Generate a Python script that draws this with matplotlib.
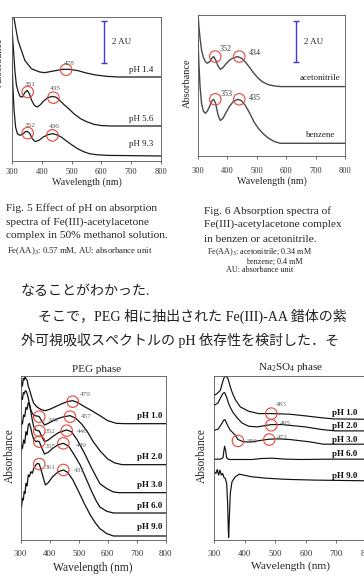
import matplotlib
matplotlib.use('Agg')
import matplotlib.pyplot as plt

plt.rcParams['font.family'] = ['Liberation Serif', 'Noto Sans CJK JP']
plt.rcParams['mathtext.fontset'] = 'custom'
plt.rcParams['mathtext.rm'] = 'Liberation Serif'
plt.rcParams['mathtext.it'] = 'Liberation Serif:italic'

# ---------------- Fig. 5 data (50% methanol) ----------------
f5_ph14_wl = [303, 307, 320, 343, 365, 393, 410, 440, 470, 490, 520, 550, 580, 620, 660, 800]
f5_ph14_ab = [7.10, 6.83, 5.79, 4.83, 4.43, 4.27, 4.24, 4.32, 4.40, 4.40, 4.34, 4.22, 4.13, 4.06, 4.03, 4.03]
f5_ph56_wl = [300, 305, 310, 315, 320, 327, 335, 343, 351, 358, 366, 375, 385, 395, 405, 420, 435, 448,
              460, 475, 490, 510, 530, 550, 575, 600, 630, 800]
f5_ph56_ab = [6.35, 5.31, 4.27, 3.63, 3.36, 3.10, 3.07, 3.28, 3.39, 3.23, 2.91, 2.67, 2.59, 2.70, 2.86, 3.04,
              3.10, 3.06, 2.91, 2.70, 2.51, 2.24, 2.03, 1.89, 1.76, 1.70, 1.68, 1.68]
f5_ph93_wl = [300, 303, 307, 312, 318, 327, 338, 345, 352, 360, 368, 378, 390, 405, 420, 436, 450, 465,
              480, 500, 520, 540, 560, 585, 620, 800]
f5_ph93_ab = [4.83, 3.55, 2.43, 1.63, 1.31, 1.23, 1.31, 1.41, 1.42, 1.31, 1.07, 0.93, 0.99, 1.15, 1.26, 1.31,
              1.26, 1.15, 0.99, 0.78, 0.59, 0.45, 0.35, 0.30, 0.27, 0.24]
f5_labels = ['pH 1.4', 'pH 5.6', 'pH 9.3']
f5_label_ab = [4.35, 2.03, 0.80]
f5_peak_names = ['478', '351', '435', '352', '436']
f5_peak_wl = [481.6, 352.7, 439.0, 352.7, 435.6]
f5_peak_ab = [4.38, 3.31, 3.04, 1.34, 1.23]
f5_peak_txt_wl = [493, 360, 444, 362, 443]
f5_peak_txt_ab = [4.70, 3.68, 3.49, 1.70, 1.66]

# ---------------- Fig. 6 data (benzene / acetonitrile) ----------------
f6_acn_wl = [300, 303, 307, 312, 318, 325, 332, 340, 347, 353, 360, 368, 376, 385, 395, 408, 420, 434,
             447, 460, 475, 490, 505, 520, 540, 560, 580, 800]
f6_acn_ab = [6.85, 6.21, 5.65, 5.09, 4.74, 4.53, 4.45, 4.53, 4.69, 4.77, 4.61, 4.32, 4.16, 4.24, 4.42, 4.61,
             4.70, 4.77, 4.70, 4.53, 4.26, 3.97, 3.73, 3.55, 3.42, 3.36, 3.33, 3.33]
f6_bz_wl = [300, 303, 307, 312, 318, 325, 332, 340, 347, 353, 360, 368, 376, 385, 395, 408, 420, 435,
            447, 460, 475, 490, 505, 520, 540, 560, 580, 800]
f6_bz_ab = [5.57, 4.45, 3.33, 2.53, 2.16, 2.05, 2.16, 2.40, 2.64, 2.72, 2.53, 1.97, 1.70, 1.81, 2.08, 2.40,
            2.61, 2.72, 2.66, 2.45, 2.08, 1.65, 1.33, 1.09, 0.85, 0.69, 0.61, 0.61]
f6_labels = ['acetonitrile', 'benzene']
f6_label_ab = [3.73, 1.01]
f6_peak_names = ['352', '434', '353', '435']
f6_peak_wl = [358.8, 440.3, 358.8, 440.3]
f6_peak_ab = [4.77, 4.77, 2.72, 2.72]
f6_peak_txt_wl = [393, 492, 396, 492]
f6_peak_txt_ab = [5.12, 4.96, 2.96, 2.80]

# ---------------- PEG phase data ----------------
peg_ph10_wl = [300, 303, 306, 309, 312, 315, 318, 322, 326, 330, 334, 340, 345, 355, 365, 375, 385, 400,
               420, 440, 460, 479, 495, 520, 545, 575, 600, 630, 660, 800]
peg_ph10_ab = [4.55, 4.75, 4.62, 4.85, 4.80, 4.90, 4.84, 4.80, 4.62, 4.52, 4.40, 4.22, 4.10, 4.00, 3.94,
               3.90, 3.88, 3.92, 4.00, 4.08, 4.15, 4.18, 4.13, 4.00, 3.88, 3.72, 3.58, 3.50, 3.49, 3.49]
peg_ph20_wl = [300, 303, 306, 309, 312, 316, 320, 325, 330, 335, 340, 345, 352, 358, 364, 372, 382, 395,
               410, 430, 450, 470, 490, 510, 530, 550, 575, 600, 625, 650, 800]
peg_ph20_ab = [4.15, 4.30, 4.22, 4.42, 4.38, 4.48, 4.45, 4.30, 4.10, 3.90, 3.80, 3.75, 3.72, 3.72, 3.70,
               3.58, 3.45, 3.50, 3.57, 3.65, 3.70, 3.73, 3.65, 3.48, 3.25, 2.95, 2.66, 2.43, 2.31, 2.26, 2.26]
peg_ph30_wl = [300, 303, 306, 310, 314, 318, 322, 326, 330, 335, 340, 345, 352, 358, 364, 372, 382, 395,
               410, 430, 450, 459, 475, 495, 520, 545, 573, 597, 620, 640, 800]
peg_ph30_ab = [3.40, 3.55, 3.48, 3.75, 3.70, 3.98, 3.92, 4.12, 4.05, 3.85, 3.60, 3.40, 3.30, 3.28, 3.27,
               3.12, 2.95, 3.00, 3.10, 3.22, 3.28, 3.30, 3.25, 3.00, 2.60, 2.15, 1.69, 1.54, 1.44, 1.42, 1.42]
peg_ph60_wl = [300, 303, 306, 310, 314, 318, 322, 326, 330, 335, 340, 345, 352, 358, 364, 372, 382, 395,
               410, 430, 447, 465, 485, 505, 525, 545, 560, 573, 597, 620, 800]
peg_ph60_ab = [2.60, 2.85, 2.75, 3.00, 2.90, 3.25, 3.15, 3.45, 3.50, 3.35, 3.15, 3.02, 2.95, 2.97, 2.95,
               2.78, 2.58, 2.63, 2.75, 2.86, 2.90, 2.82, 2.55, 2.25, 1.85, 1.45, 1.18, 0.99, 0.86, 0.81, 0.81]
peg_ph90_wl = [300, 303, 306, 309, 312, 315, 318, 322, 326, 330, 335, 340, 345, 352, 358, 364, 372, 385,
               395, 410, 430, 447, 462, 480, 500, 520, 540, 557, 573, 597, 620, 800]
peg_ph90_ab = [1.05, 1.00, 1.25, 1.20, 1.45, 1.40, 1.70, 1.62, 1.95, 1.90, 2.05, 2.00, 2.15, 2.25, 2.30,
               2.28, 2.05, 1.65, 1.72, 1.90, 2.05, 2.10, 2.03, 1.80, 1.45, 1.08, 0.75, 0.52, 0.34, 0.19, 0.12, 0.12]
peg_labels = ['pH 1.0', 'pH 2.0', 'pH 3.0', 'pH 6.0', 'pH 9.0']
peg_label_ab = [3.72, 2.49, 1.64, 1.01, 0.38]
peg_peak_names = ['479', '457', '446', '449', '437', '349', '352', '355', '361']
peg_peak_wl = [479.3, 470, 458.6, 447, 447, 364, 364, 364, 364]
peg_peak_ab = [4.15, 3.70, 3.28, 2.90, 2.10, 3.70, 3.27, 2.95, 2.28]
peg_peak_txt_wl = [522, 525, 514, 510, 502, 413, 401, 401, 401]
peg_peak_txt_ab = [4.35, 3.70, 3.25, 2.83, 2.10, 3.58, 3.25, 2.82, 2.17]

# ---------------- Na2SO4 phase data ----------------
na_ph10_wl = [300, 308.7, 319.7, 327.3, 332.8, 338.2, 344.8, 352.4, 360, 368.8, 385.2, 412.4, 445.2, 486.7,
              521.6, 548, 600, 646, 690, 800]
na_ph10_ab = [4.35, 4.40, 4.50, 4.75, 4.90, 4.93, 4.85, 4.60, 4.40, 4.22, 4.00, 3.87, 3.80, 3.80, 3.79,
              3.78, 3.73, 3.68, 3.64, 3.63]
na_ph20_wl = [300, 312, 323, 329.5, 334, 340, 349, 360, 374, 390.6, 412, 440, 467, 486.7, 521.6, 554,
              598, 652.6, 696, 800]
na_ph20_ab = [4.05, 4.12, 4.32, 4.42, 4.43, 4.30, 4.05, 3.85, 3.68, 3.52, 3.42, 3.40, 3.44, 3.47, 3.47,
              3.44, 3.40, 3.32, 3.28, 3.28]
na_ph30_wl = [300, 312, 323, 330.6, 335, 341.5, 352.4, 368.8, 377.5, 396, 423, 456, 480, 510.7, 548, 613,
              657, 800]
na_ph30_ab = [3.30, 3.33, 3.48, 3.60, 3.62, 3.48, 3.30, 3.15, 3.02, 2.95, 2.95, 3.00, 3.03, 3.04, 3.02,
              2.95, 2.88, 2.88]
na_ph60_wl = [300, 319.7, 328.4, 331.7, 333.8, 337, 340.4, 347, 379.7, 423.4, 456, 489, 532.5, 587, 674.5, 800]
na_ph60_ab = [2.43, 2.43, 2.47, 2.70, 2.82, 2.70, 2.47, 2.42, 2.42, 2.42, 2.45, 2.46, 2.43, 2.42, 2.43, 2.43]
na_ph90_wl = [300, 305.5, 309.8, 314.2, 318.6, 323, 327.3, 331.7, 336, 340.4, 343.7, 345.9, 347, 349,
              352.4, 357.9, 368.8, 381.9, 396, 423.4, 467, 521.6, 548, 630.8, 800]
na_ph90_ab = [2.05, 2.00, 2.12, 1.95, 2.10, 1.95, 2.00, 1.88, 1.85, 1.70, 1.10, 0.30, 0.08, 0.60,
              1.40, 1.75, 1.90, 1.98, 1.95, 1.90, 1.86, 1.83, 1.82, 1.80, 1.78]
na_labels = ['pH 1.0', 'pH 2.0', 'pH 3.0', 'pH 6.0', 'pH 9.0']
na_label_ab = [3.83, 3.43, 3.02, 2.58, 1.92]
na_peak_names = ['483', '485', '472', '380']
na_peak_wl = [486.7, 486.7, 480, 377.5]
na_peak_ab = [3.80, 3.45, 3.02, 2.98]
na_peak_txt_wl = [519, 532, 522, 423]
na_peak_txt_ab = [4.07, 3.50, 3.08, 2.97]

xticks = [300, 400, 500, 600, 700, 800]

# ---------------- figure ----------------
W, H = 364, 577
fig = plt.figure(figsize=(W / 100, H / 100), dpi=100)
fig.patch.set_facecolor('white')

RED = '#e8453c'
BLUE = '#3b3bd6'
TXT = '#222222'


def add_ax(l, t, r, b):
    return fig.add_axes([l / W, 1 - b / H, (r - l) / W, (b - t) / H])


def ftext(x, y, s, **kw):
    kw.setdefault('color', TXT)
    fig.text(x / W, 1 - y / H, s, **kw)


def style(ax, ymax, tfs, tpad, xfs, xpad):
    ax.set_xlim(300, 800)
    ax.set_ylim(0, ymax)
    ax.set_xticks(xticks)
    ax.set_yticks([])
    for s in ax.spines.values():
        s.set_linewidth(0.6)
        s.set_color('#555555')
    ax.tick_params(axis='x', direction='out', length=2, width=0.6, color='#555555',
                   labelsize=tfs, pad=tpad, labelcolor='#333333')
    ax.set_xlabel('Wavelength (nm)', fontsize=xfs, labelpad=xpad, color=TXT)


def circles(ax, wl, ab, names, twl, tab, fs, col):
    ax.scatter(wl, ab, s=68, facecolors='none', edgecolors=RED, linewidths=0.8, zorder=5, clip_on=False)
    for n, x, y in zip(names, twl, tab):
        ax.text(x, y, n, fontsize=fs, color=col, ha='center', va='center', zorder=6)


# ---- Fig. 5 ----
ax1 = add_ax(12, 17, 161, 161)
style(ax1, 6.91, 6.0, 2.8, 7.2, 1.0)
for wl, ab in [(f5_ph14_wl, f5_ph14_ab), (f5_ph56_wl, f5_ph56_ab), (f5_ph93_wl, f5_ph93_ab)]:
    ax1.plot(wl, ab, color='#1a1a1a', lw=0.9)
for lab, y in zip(f5_labels, f5_label_ab):
    ax1.text(775, y, lab, fontsize=6.5, ha='right', va='center', color=TXT)
circles(ax1, f5_peak_wl, f5_peak_ab, f5_peak_names, f5_peak_txt_wl, f5_peak_txt_ab, 5.2, '#555555')
ax1.errorbar([609], [5.72], yerr=[[1.0], [1.0]], color=BLUE, capsize=2.5, lw=1.0, capthick=1.0)
ax1.text(635, 5.71, '2 AU', fontsize=6.5, ha='left', va='center', color=TXT)
ftext(-1, 62, 'Absorbance', fontsize=7.5, rotation=90, ha='center', va='center')

# ---- Fig. 6 ----
ax2 = add_ax(198, 15.3, 345, 156)
style(ax2, 6.75, 6.0, 6.0, 7.2, 1.0)
for wl, ab in [(f6_acn_wl, f6_acn_ab), (f6_bz_wl, f6_bz_ab)]:
    ax2.plot(wl, ab, color='#4a4a4a', lw=1.0)
ax2.text(783, f6_label_ab[0], f6_labels[0], fontsize=6.5, ha='right', va='center', color=TXT)
ax2.text(766, f6_label_ab[1], f6_labels[1], fontsize=6.5, ha='right', va='center', color=TXT)
circles(ax2, f6_peak_wl, f6_peak_ab, f6_peak_names, f6_peak_txt_wl, f6_peak_txt_ab, 5.8, '#333333')
ax2.errorbar([634], [5.5], yerr=[[1.0], [1.0]], color=BLUE, capsize=2.5, lw=1.0, capthick=1.0)
ax2.text(659, 5.46, '2 AU', fontsize=6.5, ha='left', va='center', color=TXT)
ftext(187, 83, 'Absorbance', fontsize=7.5, rotation=90, ha='center', va='center')

# ---- captions ----
CAP = 8.2
ftext(6, 208, 'Fig. 5 Effect of pH on absorption', fontsize=CAP, ha='left', va='center')
ftext(6, 222, 'spectra of Fe(III)-acetylacetone', fontsize=CAP, ha='left', va='center')
ftext(6, 236, 'complex in 50% methanol solution.', fontsize=CAP, ha='left', va='center')
ftext(7, 251, r'Fe(AA)$_3$: 0.57 mM, AU: absorbance unit', fontsize=6.3, ha='left', va='center')

ftext(204, 211, 'Fig. 6 Absorption spectra of', fontsize=CAP, ha='left', va='center')
ftext(204, 224, 'Fe(III)-acetylacetone complex', fontsize=CAP, ha='left', va='center')
ftext(204, 239, 'in benzen or acetonitrile.', fontsize=CAP, ha='left', va='center')
ftext(207, 252, r'Fe(AA)$_3$: acetonitrile; 0.34 mM', fontsize=5.9, ha='left', va='center')
ftext(246, 261.5, 'benzene; 0.4 mM', fontsize=5.9, ha='left', va='center')
ftext(226, 269.5, 'AU: absorbance unit', fontsize=5.9, ha='left', va='center')

# ---- Japanese body text ----
JP = 10.1
ftext(21, 292, 'なることがわかった.', fontsize=JP, ha='left', va='center')
ftext(38, 316.5, 'そこで，PEG 相に抽出された Fe(III)-AA 錯体の紫', fontsize=JP, ha='left', va='center')
ftext(21, 340, '外可視吸収スペクトルの pH 依存性を検討した．そ', fontsize=JP, ha='left', va='center')

# ---- PEG phase ----
ax3 = add_ax(20.7, 376, 165.7, 540)
style(ax3, 4.92, 6.3, 5.5, 8.3, 2.5)
for wl, ab in [(peg_ph10_wl, peg_ph10_ab), (peg_ph20_wl, peg_ph20_ab), (peg_ph30_wl, peg_ph30_ab),
               (peg_ph60_wl, peg_ph60_ab), (peg_ph90_wl, peg_ph90_ab)]:
    ax3.plot(wl, ab, color='#111111', lw=0.9)
for lab, y in zip(peg_labels, peg_label_ab):
    ax3.text(787, y, lab, fontsize=6.5, ha='right', va='center', color='#111111', fontweight='bold')
circles(ax3, peg_peak_wl, peg_peak_ab, peg_peak_names, peg_peak_txt_wl, peg_peak_txt_ab, 5.2, '#666666')
ftext(97, 369, 'PEG phase', fontsize=8.0, ha='center', va='center')
ftext(10, 456, 'Absorbance', fontsize=8.3, rotation=90, ha='center', va='center')

# ---- Na2SO4 phase ----
ax4 = add_ax(214.3, 376, 367, 540)
style(ax4, 4.93, 6.3, 5.0, 8.2, 2.5)
for wl, ab in [(na_ph10_wl, na_ph10_ab), (na_ph20_wl, na_ph20_ab), (na_ph30_wl, na_ph30_ab),
               (na_ph60_wl, na_ph60_ab), (na_ph90_wl, na_ph90_ab)]:
    ax4.plot(wl, ab, color='#111111', lw=0.85)
for lab, y in zip(na_labels, na_label_ab):
    ax4.text(767, y, lab, fontsize=6.5, ha='right', va='center', color='#111111', fontweight='bold')
circles(ax4, na_peak_wl, na_peak_ab, na_peak_names, na_peak_txt_wl, na_peak_txt_ab, 5.2, '#666666')
ftext(291, 368, r'Na$_2$SO$_4$ phase', fontsize=8.0, ha='center', va='center')
ftext(202, 456, 'Absorbance', fontsize=8.3, rotation=90, ha='center', va='center')

fig.savefig('out.png', dpi=100, facecolor='white')
